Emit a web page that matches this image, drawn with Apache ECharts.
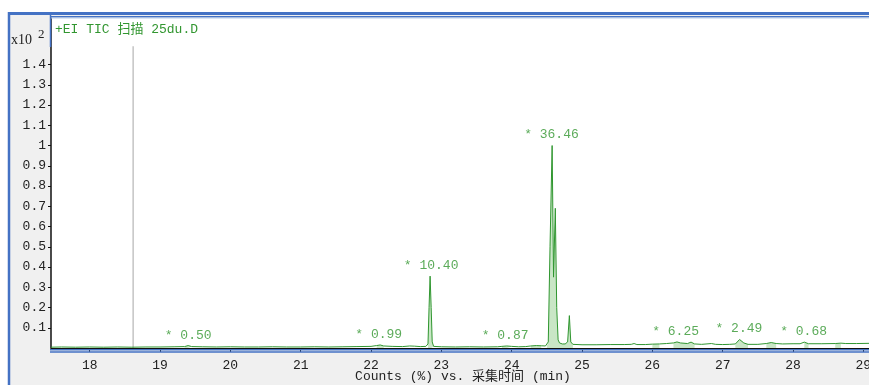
<!DOCTYPE html>
<html><head><meta charset="utf-8">
<script src="https://cdn.jsdelivr.net/npm/echarts@6/dist/echarts.min.js"></script>
<style>html,body{margin:0;padding:0;background:#fff}#c{width:869px;height:385px}</style>
</head><body><div id="c"></div>
<script>
// Retention time (min) and TIC (x10^2 counts, %)
const trace = [
  [17.45,0.004],[17.6,0.005],[17.8,0.004],[18.0,0.005],[18.2,0.004],[18.4,0.005],[18.6,0.004],
  [18.8,0.005],[19.0,0.005],[19.2,0.006],[19.35,0.007],[19.40,0.012],[19.45,0.007],[19.6,0.006],
  [19.8,0.005],[20.0,0.006],[20.2,0.005],[20.4,0.005],[20.6,0.006],[20.8,0.005],[21.0,0.005],
  [21.2,0.006],[21.4,0.005],[21.6,0.006],[21.8,0.007],[22.0,0.008],[22.08,0.012],[22.13,0.015],
  [22.18,0.010],[22.3,0.008],[22.45,0.007],[22.55,0.010],[22.62,0.009],[22.7,0.007],[22.78,0.008],
  [22.81,0.02],[22.825,0.2],[22.84,0.355],[22.855,0.2],[22.87,0.03],[22.89,0.008],[23.0,0.006],
  [23.2,0.005],[23.4,0.006],[23.6,0.005],[23.8,0.006],[23.86,0.008],[23.93,0.010],[24.0,0.008],
  [24.1,0.006],[24.2,0.007],[24.27,0.010],[24.35,0.012],[24.42,0.011],[24.48,0.010],[24.50,0.012],
  [24.52,0.03],[24.545,0.5],[24.575,1.0],[24.595,0.35],[24.62,0.69],[24.64,0.2],[24.66,0.04],
  [24.68,0.025],[24.72,0.02],[24.76,0.02],[24.795,0.03],[24.82,0.16],[24.84,0.03],[24.87,0.018],
  [25.0,0.016],[25.2,0.016],[25.4,0.017],[25.6,0.017],[25.7,0.018],[25.74,0.022],[25.78,0.017],
  [25.9,0.017],[26.0,0.019],[26.1,0.02],[26.2,0.022],[26.3,0.025],[26.35,0.03],[26.4,0.025],
  [26.5,0.022],[26.55,0.029],[26.6,0.02],[26.7,0.018],[26.84,0.022],[26.9,0.018],[27.0,0.017],
  [27.1,0.018],[27.18,0.02],[27.24,0.042],[27.3,0.025],[27.36,0.018],[27.5,0.018],[27.62,0.022],
  [27.69,0.027],[27.76,0.022],[27.85,0.02],[28.0,0.021],[28.1,0.021],[28.16,0.029],[28.22,0.021],
  [28.4,0.021],[28.6,0.022],[28.68,0.024],[28.75,0.022],[28.9,0.022],[29.08,0.023]
];
const fillWindows = [[19.35,19.45],[22.05,22.2],[22.8,22.89],[23.84,24.0],[24.22,24.44],[24.5,24.87],
  [26.0,26.14],[26.3,26.6],[27.18,27.36],[27.62,27.76],[28.12,28.22],[28.6,28.72]];
const peakRT = [19.40, 22.11, 22.855, 23.906, 24.565, 26.33, 27.23, 28.15];
const peakArea = ['0.50','0.99','10.40','0.87','36.46','6.25','2.49','0.68'];
const markerRT = [18.618];
const markerTop = [1.49];
const xTicks = [18,19,20,21,22,23,24,25,26,27,28,29];
const yTicks = [0.1,0.2,0.3,0.4,0.5,0.6,0.7,0.8,0.9,1.0,1.1,1.2,1.3,1.4];
const headerText = '+EI TIC 扫描 25du.D';
const axisTitle = 'Counts (%) vs. 采集时间 (min)';

const mono = "'Liberation Mono','Noto Sans CJK SC',monospace";
const inWin = t => fillWindows.some(w => t >= w[0] - 1e-9 && t <= w[1] + 1e-9);
const fillData = trace.map(p => inWin(p[0]) ? p : [p[0], '-']);
const apexAt = t => {
  let best = 0;
  trace.forEach(p => { if (Math.abs(p[0] - t) <= 0.035) best = Math.max(best, p[1]); });
  return best;
};
const labelData = peakRT.map((t, i) => ({ value: [t, apexAt(t)], name: '* ' + peakArea[i] }));

const chart = echarts.init(document.getElementById('c'), null, { renderer: 'canvas' });
chart.setOption({
  animation: false,
  grid: { left: 51, right: 0, top: 18, bottom: 37, outerBoundsMode: 'none', containLabel: false },
  xAxis: {
    type: 'value', min: 17.45, max: 29.08, offset: 6,
    axisLine: { show: true, lineStyle: { color: '#111', width: 1 } },
    axisTick: { show: true, length: 4, customValues: xTicks, lineStyle: { color: '#111' } },
    axisLabel: { customValues: xTicks, margin: 5, fontFamily: mono, fontSize: 13, color: '#222', hideOverlap: false },
    splitLine: { show: false }
  },
  yAxis: {
    type: 'value', min: 0, max: 1.63,
    axisLine: { show: true, lineStyle: { color: '#111', width: 1.5 } },
    axisTick: { show: true, length: 3, customValues: yTicks, lineStyle: { color: '#111' } },
    axisLabel: { customValues: yTicks, margin: 5, fontFamily: mono, fontSize: 13, color: '#222',
      formatter: v => String(Math.round(v * 10) / 10) },
    splitLine: { show: false }
  },
  graphic: [
    { type: 'rect', z: -30, shape: { x: 0, y: 0, width: 869, height: 385 }, style: { fill: '#ffffff' } },
    { type: 'rect', z: -20, shape: { x: 8, y: 12, width: 861, height: 373 }, style: { fill: '#f0f0f0' } },
    { type: 'rect', z: -10, shape: { x: 51, y: 18, width: 818, height: 331 }, style: { fill: '#ffffff' } },
    { type: 'line', z: 50, shape: { x1: 9, y1: 12, x2: 9, y2: 385 }, style: { stroke: '#4472c4', lineWidth: 2.5 } },
    { type: 'line', z: 50, shape: { x1: 8, y1: 13.5, x2: 869, y2: 13.5 }, style: { stroke: '#4472c4', lineWidth: 3 } },
    { type: 'line', z: 50, shape: { x1: 50, y1: 16.7, x2: 869, y2: 16.7 }, style: { stroke: '#4472c4', lineWidth: 1.4 } },
    { type: 'line', z: 50, shape: { x1: 50, y1: 18, x2: 869, y2: 18 }, style: { stroke: '#b8cbe8', lineWidth: 1 } },
    { type: 'line', z: 50, shape: { x1: 50.5, y1: 15, x2: 50.5, y2: 47 }, style: { stroke: '#4472c4', lineWidth: 1.5 } },
    { type: 'line', z: 50, shape: { x1: 50, y1: 349.8, x2: 869, y2: 349.8 }, style: { stroke: '#4472c4', lineWidth: 1.6 } },
    { type: 'line', z: 50, shape: { x1: 50, y1: 352, x2: 869, y2: 352 }, style: { stroke: '#4472c4', lineWidth: 1.6 } },
    { type: 'text', z: 50, style: { x: 11, y: 40, text: 'x10', font: "14px 'Liberation Serif'", fill: '#222', verticalAlign: 'middle' } },
    { type: 'text', z: 50, style: { x: 38, y: 35, text: '2', font: "13px 'Liberation Serif'", fill: '#222', verticalAlign: 'middle' } },
    { type: 'text', z: 50, style: { x: 55, y: 30, text: headerText, font: "13px 'Liberation Mono','Noto Sans CJK SC'", fill: '#329630', verticalAlign: 'middle' } },
    { type: 'text', z: 50, style: { x: 463, y: 377, text: axisTitle, font: "13px 'Liberation Mono','Noto Sans CJK SC'", fill: '#222', align: 'center', verticalAlign: 'middle' } }
  ],
  series: [
    { type: 'line', data: fillData, showSymbol: false, connectNulls: false, z: 2,
      lineStyle: { width: 0, opacity: 0 }, areaStyle: { color: 'rgba(70,170,60,0.42)', origin: 'start' } },
    { type: 'line', data: trace, showSymbol: false, z: 3,
      lineStyle: { width: 1, color: '#2f962f' } },
    { type: 'line', data: [[markerRT[0], 0], [markerRT[0], markerTop[0]]], showSymbol: false, z: 1,
      lineStyle: { width: 1.5, color: '#c4c4c4' } },
    { type: 'scatter', data: labelData, symbolSize: 2, itemStyle: { color: 'rgba(0,0,0,0)' }, z: 4,
      labelLayout: { hideOverlap: false },
      label: { show: true, position: 'top', distance: 3, formatter: p => p.name,
        fontFamily: mono, fontSize: 13, color: '#329630' } }
  ]
});
</script></body></html>
